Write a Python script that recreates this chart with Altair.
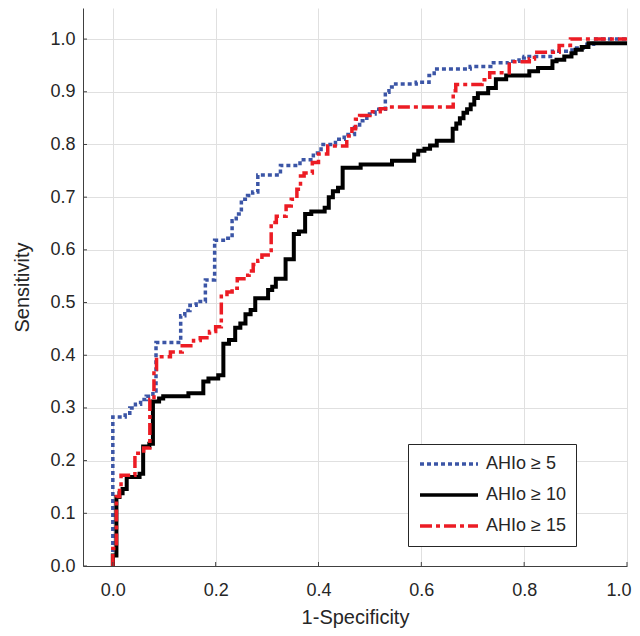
import altair as alt
import pandas as pd

series_names = ["AHIo ≥ 5", "AHIo ≥ 10", "AHIo ≥ 15"]
series_colors = ["#3b55a6", "#000000", "#ec1c24"]
series_dashes = [[4, 3], [1, 0], [12, 4, 4, 4]]
series_widths = [3.5, 4, 3.5]

ahi5_x = [0.000, 0.000, 0.024, 0.024, 0.033, 0.033, 0.044, 0.044, 0.054, 0.054, 0.065, 0.065,
          0.078, 0.078, 0.084, 0.084, 0.132, 0.132, 0.140, 0.140, 0.150, 0.150, 0.162, 0.162,
          0.180, 0.180, 0.198, 0.198, 0.215, 0.215, 0.232, 0.232, 0.240, 0.240, 0.250, 0.250,
          0.262, 0.262, 0.272, 0.272, 0.282, 0.282, 0.326, 0.326, 0.364, 0.364, 0.390, 0.390,
          0.405, 0.405, 0.433, 0.433, 0.450, 0.450, 0.470, 0.470, 0.480, 0.480, 0.494, 0.494,
          0.510, 0.510, 0.530, 0.530, 0.537, 0.537, 0.550, 0.550, 0.590, 0.590, 0.615, 0.615,
          0.625, 0.625, 0.695, 0.695, 0.735, 0.735, 0.770, 0.770, 0.790, 0.790, 0.800, 0.800,
          0.855, 0.855, 0.893, 0.893, 0.915, 0.915, 0.935, 0.935, 1.000]
ahi5_y = [0.000, 0.283, 0.283, 0.290, 0.290, 0.300, 0.300, 0.307, 0.307, 0.316, 0.316, 0.322,
          0.322, 0.332, 0.332, 0.424, 0.424, 0.475, 0.475, 0.485, 0.485, 0.495, 0.495, 0.502,
          0.502, 0.543, 0.543, 0.618, 0.618, 0.622, 0.622, 0.655, 0.655, 0.668, 0.668, 0.696,
          0.696, 0.703, 0.703, 0.710, 0.710, 0.742, 0.742, 0.760, 0.760, 0.771, 0.771, 0.784,
          0.784, 0.800, 0.800, 0.810, 0.810, 0.819, 0.819, 0.832, 0.832, 0.845, 0.845, 0.858,
          0.858, 0.867, 0.867, 0.899, 0.899, 0.909, 0.909, 0.915, 0.915, 0.918, 0.918, 0.931,
          0.931, 0.943, 0.943, 0.948, 0.948, 0.955, 0.955, 0.958, 0.958, 0.964, 0.964, 0.967,
          0.967, 0.977, 0.977, 0.983, 0.983, 0.990, 0.990, 1.000, 1.000]

ahi10_x = [0.000, 0.000, 0.007, 0.007, 0.013, 0.013, 0.019, 0.019, 0.027, 0.027, 0.052, 0.052,
           0.059, 0.059, 0.071, 0.071, 0.078, 0.078, 0.090, 0.090, 0.098, 0.098, 0.147, 0.147,
           0.176, 0.176, 0.186, 0.186, 0.205, 0.205, 0.215, 0.215, 0.226, 0.226, 0.238, 0.238,
           0.248, 0.248, 0.258, 0.258, 0.268, 0.268, 0.277, 0.277, 0.302, 0.302, 0.310, 0.310,
           0.317, 0.317, 0.336, 0.336, 0.352, 0.352, 0.362, 0.362, 0.374, 0.374, 0.386, 0.386,
           0.412, 0.412, 0.420, 0.420, 0.428, 0.428, 0.438, 0.438, 0.447, 0.447, 0.482, 0.482,
           0.543, 0.543, 0.586, 0.586, 0.594, 0.594, 0.606, 0.606, 0.617, 0.617, 0.630, 0.630,
           0.661, 0.661, 0.668, 0.668, 0.675, 0.675, 0.682, 0.682, 0.689, 0.689, 0.696, 0.696,
           0.703, 0.703, 0.710, 0.710, 0.730, 0.730, 0.745, 0.745, 0.765, 0.765, 0.810, 0.810,
           0.827, 0.827, 0.855, 0.855, 0.863, 0.863, 0.878, 0.878, 0.892, 0.892, 0.900, 0.900,
           0.912, 0.912, 0.925, 0.925, 1.000]
ahi10_y = [0.000, 0.020, 0.020, 0.131, 0.131, 0.138, 0.138, 0.146, 0.146, 0.169, 0.169, 0.175,
           0.175, 0.227, 0.227, 0.232, 0.232, 0.312, 0.312, 0.318, 0.318, 0.322, 0.322, 0.328,
           0.328, 0.350, 0.350, 0.356, 0.356, 0.362, 0.362, 0.422, 0.422, 0.429, 0.429, 0.452,
           0.452, 0.460, 0.460, 0.478, 0.478, 0.486, 0.486, 0.508, 0.508, 0.524, 0.524, 0.530,
           0.530, 0.545, 0.545, 0.582, 0.582, 0.630, 0.630, 0.635, 0.635, 0.668, 0.668, 0.673,
           0.673, 0.680, 0.680, 0.700, 0.700, 0.711, 0.711, 0.718, 0.718, 0.756, 0.756, 0.762,
           0.762, 0.769, 0.769, 0.781, 0.781, 0.788, 0.788, 0.792, 0.792, 0.798, 0.798, 0.807,
           0.807, 0.830, 0.830, 0.840, 0.840, 0.850, 0.850, 0.860, 0.860, 0.867, 0.867, 0.876,
           0.876, 0.888, 0.888, 0.897, 0.897, 0.907, 0.907, 0.924, 0.924, 0.931, 0.931, 0.939,
           0.939, 0.945, 0.945, 0.958, 0.958, 0.961, 0.961, 0.967, 0.967, 0.973, 0.973, 0.980,
           0.980, 0.985, 0.985, 0.992, 0.992]

ahi15_x = [0.000, 0.000, 0.007, 0.007, 0.013, 0.013, 0.016, 0.016, 0.043, 0.043, 0.060, 0.060,
           0.072, 0.072, 0.080, 0.080, 0.085, 0.085, 0.112, 0.112, 0.135, 0.135, 0.157, 0.157,
           0.170, 0.170, 0.188, 0.188, 0.200, 0.200, 0.211, 0.211, 0.222, 0.222, 0.232, 0.232,
           0.242, 0.242, 0.255, 0.255, 0.265, 0.265, 0.273, 0.273, 0.282, 0.282, 0.290, 0.290,
           0.308, 0.308, 0.318, 0.318, 0.337, 0.337, 0.347, 0.347, 0.358, 0.358, 0.365, 0.365,
           0.372, 0.372, 0.388, 0.388, 0.400, 0.400, 0.418, 0.418, 0.455, 0.455, 0.465, 0.465,
           0.472, 0.472, 0.480, 0.480, 0.500, 0.500, 0.520, 0.520, 0.538, 0.538, 0.662, 0.662,
           0.667, 0.667, 0.718, 0.718, 0.733, 0.733, 0.771, 0.771, 0.810, 0.810, 0.820, 0.820,
           0.868, 0.868, 0.890, 0.890, 1.000]
ahi15_y = [0.000, 0.033, 0.033, 0.132, 0.132, 0.150, 0.150, 0.172, 0.172, 0.214, 0.214, 0.224,
           0.224, 0.316, 0.316, 0.373, 0.373, 0.397, 0.397, 0.406, 0.406, 0.418, 0.418, 0.428,
           0.428, 0.433, 0.433, 0.445, 0.445, 0.454, 0.454, 0.512, 0.512, 0.520, 0.520, 0.527,
           0.527, 0.545, 0.545, 0.552, 0.552, 0.560, 0.560, 0.572, 0.572, 0.580, 0.580, 0.590,
           0.590, 0.652, 0.652, 0.664, 0.664, 0.683, 0.683, 0.696, 0.696, 0.715, 0.715, 0.740,
           0.740, 0.746, 0.746, 0.766, 0.766, 0.782, 0.782, 0.797, 0.797, 0.816, 0.816, 0.830,
           0.830, 0.848, 0.848, 0.855, 0.855, 0.862, 0.862, 0.868, 0.868, 0.871, 0.871, 0.902,
           0.902, 0.914, 0.914, 0.923, 0.923, 0.936, 0.936, 0.957, 0.957, 0.962, 0.962, 0.975,
           0.975, 0.988, 0.988, 1.000, 1.000]

x_tick_values = [0.0, 0.2, 0.4, 0.6, 0.8, 1.0]
y_tick_values = [0.0, 0.1, 0.2, 0.3, 0.4, 0.5, 0.6, 0.7, 0.8, 0.9, 1.0]

FONT = "Liberation Sans"
TEXT = "#262626"
PLOT_W = 544
PLOT_H = 558

frames = []
for name, xs, ys in zip(series_names, [ahi5_x, ahi10_x, ahi15_x], [ahi5_y, ahi10_y, ahi15_y]):
    frames.append(pd.DataFrame({"series": name, "fpr": xs, "tpr": ys, "order": range(len(xs))}))
df = pd.concat(frames, ignore_index=True)

x_enc = alt.X(
    "fpr:Q",
    scale=alt.Scale(domain=[-0.058, 1.0], nice=False, zero=False),
    axis=alt.Axis(values=x_tick_values, format=".1f", title="1-Specificity",
                  labelPadding=15, labelFlush=True, labelFlushOffset=4,
                  titleY=51, titleBaseline="middle"),
)
y_enc = alt.Y(
    "tpr:Q",
    scale=alt.Scale(domain=[0, 1.059], nice=False, zero=False),
    axis=alt.Axis(values=y_tick_values, format=".1f", title="Sensitivity",
                  labelPadding=8, titleX=-61, titleBaseline="middle"),
)

legend = alt.Legend(
    title=None, orient="none", legendX=325, legendY=436,
    symbolType="stroke", symbolSize=3364, symbolStrokeWidth=3.5,
    labelFont=FONT, labelFontSize=18, labelColor=TEXT, labelOffset=6,
    strokeColor="#262626", fillColor="white", padding=10,
    clipHeight=20, rowPadding=11,
)
color_enc = alt.Color("series:N", scale=alt.Scale(domain=series_names, range=series_colors), legend=legend)
dash_enc = alt.StrokeDash("series:N", scale=alt.Scale(domain=series_names, range=series_dashes), legend=legend)

layers = []
for name, w in zip(series_names, series_widths):
    layers.append(
        alt.Chart(df).transform_filter(alt.datum.series == name)
        .mark_line(strokeWidth=w, strokeCap="butt", strokeJoin="miter", interpolate="linear")
        .encode(x=x_enc, y=y_enc, color=color_enc, strokeDash=dash_enc, order="order:Q")
    )

y_ticks = alt.Chart(pd.DataFrame({"tpr": y_tick_values})).mark_rule(color="#404040", strokeWidth=1).encode(
    y=y_enc, x=alt.value(0), x2=alt.value(4))
x_ticks = alt.Chart(pd.DataFrame({"fpr": x_tick_values})).mark_rule(color="#404040", strokeWidth=1).encode(
    x=x_enc, y=alt.value(PLOT_H), y2=alt.value(PLOT_H - 4))

chart = alt.layer(*layers, y_ticks, x_ticks).properties(
    width=PLOT_W, height=PLOT_H,
    autosize=alt.AutoSizeParams(type="none"),
    padding={"left": 75, "top": 0, "right": 5, "bottom": 62},
).configure_axis(
    labelFont=FONT, labelFontSize=18, labelColor=TEXT,
    titleFont=FONT, titleFontSize=20, titleColor=TEXT, titleFontWeight="normal",
    domainColor="#404040", domainWidth=1,
    gridColor="#e0e0e0", gridWidth=1,
    ticks=False, tickSize=0,
).configure_view(stroke=None)

chart.save("out.html", embed_options={"renderer": "svg", "actions": False})
